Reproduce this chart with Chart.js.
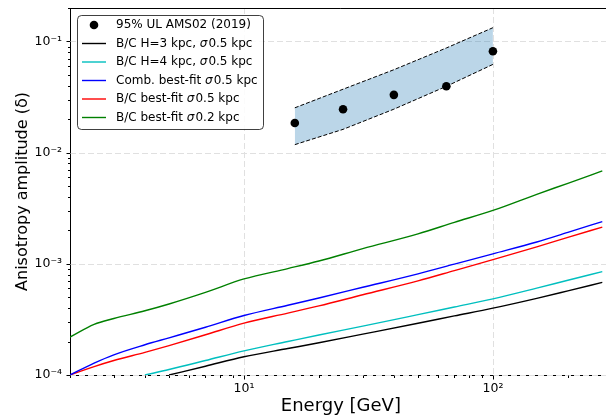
<!DOCTYPE html>
<html><head><meta charset="utf-8">
<script src="https://cdn.jsdelivr.net/npm/chart.js@4.4.1/dist/chart.umd.min.js"></script>
<style>
html,body{margin:0;padding:0;overflow:hidden;background:#fff;width:606px;height:415px}
#wrap{width:616px;height:415px;position:relative}
</style>
</head><body>
<div id="wrap"><canvas id="c" width="616" height="415"></canvas></div>
<script>
// ---- data ----
const energy = [2, 2.5, 3, 4, 5, 7, 10, 15, 20, 30, 50, 70, 100, 150, 200, 275];
const bcH3 = [null, null, null, null, 1.0e-4, 1.20e-4, 1.46e-4, 1.73e-4, 1.95e-4, 2.33e-4, 2.92e-4, 3.40e-4, 3.99e-4, 4.89e-4, 5.71e-4, 6.8e-4];
const bcH4 = [null, null, null, 1.0e-4, 1.12e-4, 1.35e-4, 1.65e-4, 2.00e-4, 2.29e-4, 2.75e-4, 3.49e-4, 4.09e-4, 4.84e-4, 6.04e-4, 7.11e-4, 8.5e-4];
const combBest05 = [1.0e-4, 1.28e-4, 1.52e-4, 1.87e-4, 2.16e-4, 2.69e-4, 3.43e-4, 4.24e-4, 4.93e-4, 6.15e-4, 8.13e-4, 9.94e-4, 1.23e-3, 1.57e-3, 1.92e-3, 2.40e-3];
const bcBest05 = [1.0e-4, 1.19e-4, 1.35e-4, 1.60e-4, 1.84e-4, 2.30e-4, 2.93e-4, 3.60e-4, 4.18e-4, 5.27e-4, 7.03e-4, 8.69e-4, 1.09e-3, 1.42e-3, 1.73e-3, 2.14e-3];
const bcBest02 = [2.19e-4, 2.85e-4, 3.22e-4, 3.78e-4, 4.35e-4, 5.53e-4, 7.31e-4, 9.06e-4, 1.06e-3, 1.37e-3, 1.86e-3, 2.36e-3, 3.02e-3, 4.22e-3, 5.30e-3, 6.85e-3];

const amsEnergy = [16, 25, 40, 65, 100];
const amsUL = [0.0185, 0.0246, 0.0331, 0.0396, 0.0816];
const bandUpper = [0.0253, 0.0372, 0.0557, 0.0874, 0.133];
const bandLower = [0.0118, 0.0162, 0.0246, 0.0395, 0.0622];

const xMajorTicks = [10, 100];
const xTickLabels = ['10\u00B9', '10\u00B2'];
const xMinorTicks = [2, 3, 4, 5, 6, 7, 8, 9, 20, 30, 40, 50, 60, 70, 80, 90, 200, 300];
const yMajorTicks = [1e-4, 1e-3, 1e-2, 1e-1];
const yTickLabels = ['10\u207B\u2074', '10\u207B\u00B3', '10\u207B\u00B2', '10\u207B\u00B9'];
const yMinorTicks = [2e-4,3e-4,4e-4,5e-4,6e-4,7e-4,8e-4,9e-4,2e-3,3e-3,4e-3,5e-3,6e-3,7e-3,8e-3,9e-3,2e-2,3e-2,4e-2,5e-2,6e-2,7e-2,8e-2,9e-2,2e-1];

const labels = {
  ams: '95% UL AMS02 (2019)',
  h3: 'B/C H=3 kpc, \u03C30.5 kpc',
  h4: 'B/C H=4 kpc, \u03C30.5 kpc',
  comb: 'Comb. best-fit \u03C30.5 kpc',
  best05: 'B/C best-fit \u03C30.5 kpc',
  best02: 'B/C best-fit \u03C30.2 kpc'
};

function pts(xs, ys) {
  return xs.map((x, i) => ({x: x, y: ys[i]})).filter(p => p.y !== null);
}

const FONT = '"DejaVu Sans", sans-serif';
Chart.defaults.font.family = FONT;
Chart.defaults.color = '#000';

function curve(label, data, color, order) {
  return {label: label, data: pts(energy, data), borderColor: color, backgroundColor: color,
    borderWidth: 1.4, pointRadius: 0, fill: false, cubicInterpolationMode: 'monotone',
    legendOrder: order, legendType: 'line'};
}

const datasets = [
  {label: labels.ams, data: pts(amsEnergy, amsUL), showLine: false, pointRadius: 4.3,
   pointBackgroundColor: '#000', pointBorderColor: '#000', borderColor: '#000', backgroundColor: '#000',
   pointBorderWidth: 0, legendOrder: 0, legendType: 'point'},
  {label: 'band lower', data: pts(amsEnergy, bandLower), borderColor: '#000', borderWidth: 1,
   borderDash: [4, 2], pointRadius: 0, fill: false, tension: 0},
  {label: 'band upper', data: pts(amsEnergy, bandUpper), borderColor: '#000', borderWidth: 1,
   borderDash: [4, 2], pointRadius: 0, fill: '-1', backgroundColor: 'rgba(31,119,180,0.3)', tension: 0},
  curve(labels.h3, bcH3, '#000000', 1),
  curve(labels.h4, bcH4, '#00bfbf', 2),
  curve(labels.comb, combBest05, '#0000ff', 3),
  curve(labels.best05, bcBest05, '#ff0000', 4),
  curve(labels.best02, bcBest02, '#008000', 5)
];

function drawRich(ctx, text, x, y) {
  const parts = text.split('\u03C3');
  parts.forEach((p, i) => {
    if (i > 0) {
      ctx.font = 'italic 12px ' + FONT;
      ctx.fillText('\u03C3', x, y);
      x += ctx.measureText('\u03C3').width + 1;
    }
    ctx.font = '12px ' + FONT;
    ctx.fillText(p, x, y);
    x += ctx.measureText(p).width;
  });
}

const framePlugin = {
  id: 'frame',
  beforeDatasetsDraw(chart) {
    const {ctx, chartArea: a, scales: {x, y}} = chart;
    ctx.save();
    ctx.strokeStyle = '#e0e0e0';
    ctx.lineWidth = 1;
    ctx.setLineDash([6, 3]);
    xMajorTicks.forEach(v => {
      const px = Math.round(x.getPixelForValue(v)) + 0.5;
      ctx.beginPath(); ctx.moveTo(px, a.top); ctx.lineTo(px, a.bottom); ctx.stroke();
    });
    yMajorTicks.forEach(v => {
      const py = Math.round(y.getPixelForValue(v)) + 0.5;
      ctx.beginPath(); ctx.moveTo(a.left, py); ctx.lineTo(a.right, py); ctx.stroke();
    });
    ctx.restore();
  },
  afterDatasetsDraw(chart) {
    const {ctx, chartArea: a} = chart;
    // legend
    const bx = a.left + 7.5, by = a.top + 7.5, bw = 186, bh = 114;
    ctx.save();
    ctx.beginPath();
    if (ctx.roundRect) ctx.roundRect(bx, by, bw, bh, 4); else ctx.rect(bx, by, bw, bh);
    ctx.fillStyle = 'rgba(255,255,255,0.85)';
    ctx.fill();
    ctx.strokeStyle = 'rgba(0,0,0,0.75)';
    ctx.lineWidth = 1;
    ctx.stroke();
    const items = chart.data.datasets.filter(d => d.legendOrder !== undefined)
      .sort((p, q) => p.legendOrder - q.legendOrder);
    ctx.textBaseline = 'middle';
    ctx.textAlign = 'left';
    items.forEach((d, i) => {
      const ry = by + 9.5 + i * 18.5;
      if (d.legendType === 'point') {
        ctx.fillStyle = '#000';
        ctx.beginPath(); ctx.arc(bx + 16.5, ry, 4.3, 0, Math.PI * 2); ctx.fill();
      } else {
        ctx.strokeStyle = d.borderColor; ctx.lineWidth = 1.4;
        ctx.beginPath(); ctx.moveTo(bx + 4.5, ry); ctx.lineTo(bx + 28.5, ry); ctx.stroke();
      }
      ctx.fillStyle = '#000';
      drawRich(ctx, d.label, bx + 38.5, ry);
    });
    ctx.restore();
  },
  afterDraw(chart) {
    const {ctx, chartArea: a, scales: {x, y}} = chart;
    ctx.save();
    ctx.strokeStyle = '#000';
    ctx.lineWidth = 1;
    const ly = Math.round(a.bottom) + 0.5, lx = Math.round(a.left) + 0.5;
    const xt = (v, len) => { const px = Math.round(x.getPixelForValue(v)) + 0.5; ctx.beginPath(); ctx.moveTo(px, ly); ctx.lineTo(px, ly + len); ctx.stroke(); };
    const yt = (v, len) => { const py = Math.round(y.getPixelForValue(v)) + 0.5; ctx.beginPath(); ctx.moveTo(lx, py); ctx.lineTo(lx - len, py); ctx.stroke(); };
    xMajorTicks.forEach(v => xt(v, 4));
    xMinorTicks.forEach(v => xt(v, 2.5));
    yMajorTicks.forEach(v => yt(v, 4));
    yMinorTicks.forEach(v => yt(v, 2.5));
    // top spine
    ctx.beginPath(); ctx.moveTo(a.left, Math.round(a.top) + 0.5); ctx.lineTo(a.right, Math.round(a.top) + 0.5); ctx.stroke();
    ctx.restore();
  }
};

new Chart(document.getElementById('c'), {
  type: 'line',
  data: {datasets: datasets},
  options: {
    responsive: false,
    animation: false,
    devicePixelRatio: 1,
    layout: {padding: {top: 8, right: 0, bottom: 0, left: 0}},
    plugins: {legend: {display: false}, tooltip: {enabled: false}},
    scales: {
      x: {
        type: 'logarithmic', position: 'bottom', min: 2, max: 300,
        afterBuildTicks: s => { s.ticks = xMajorTicks.map(v => ({value: v})); },
        afterFit: s => { s.height = 40; s.paddingLeft = 0; s.paddingRight = 0; },
        ticks: {autoSkip: false, maxRotation: 0, padding: 6, color: '#000', font: {size: 12.5},
          callback: (v, i) => xTickLabels[i]},
        grid: {display: false, drawTicks: false},
        border: {display: true, color: '#000', width: 1},
        title: {display: true, text: 'Energy [GeV]', color: '#000', font: {size: 18, lineHeight: 1}, padding: {top: 0, bottom: 0}}
      },
      y: {
        type: 'logarithmic', position: 'left', min: 1e-4, max: 0.2,
        afterBuildTicks: s => { s.ticks = yMajorTicks.map(v => ({value: v})); },
        afterFit: s => { s.width = 70; s.paddingTop = 0; s.paddingBottom = 0; },
        ticks: {autoSkip: false, padding: 8, color: '#000', font: {size: 12.5},
          callback: (v, i) => yTickLabels[i]},
        grid: {display: false, drawTicks: false},
        border: {display: true, color: '#000', width: 1},
        title: {display: true, text: 'Anisotropy amplitude (\u03B4)', color: '#000', font: {size: 16, lineHeight: 1}, padding: {top: 14.5, bottom: 0}}
      }
    }
  },
  plugins: [framePlugin]
});
</script>
</body></html>
